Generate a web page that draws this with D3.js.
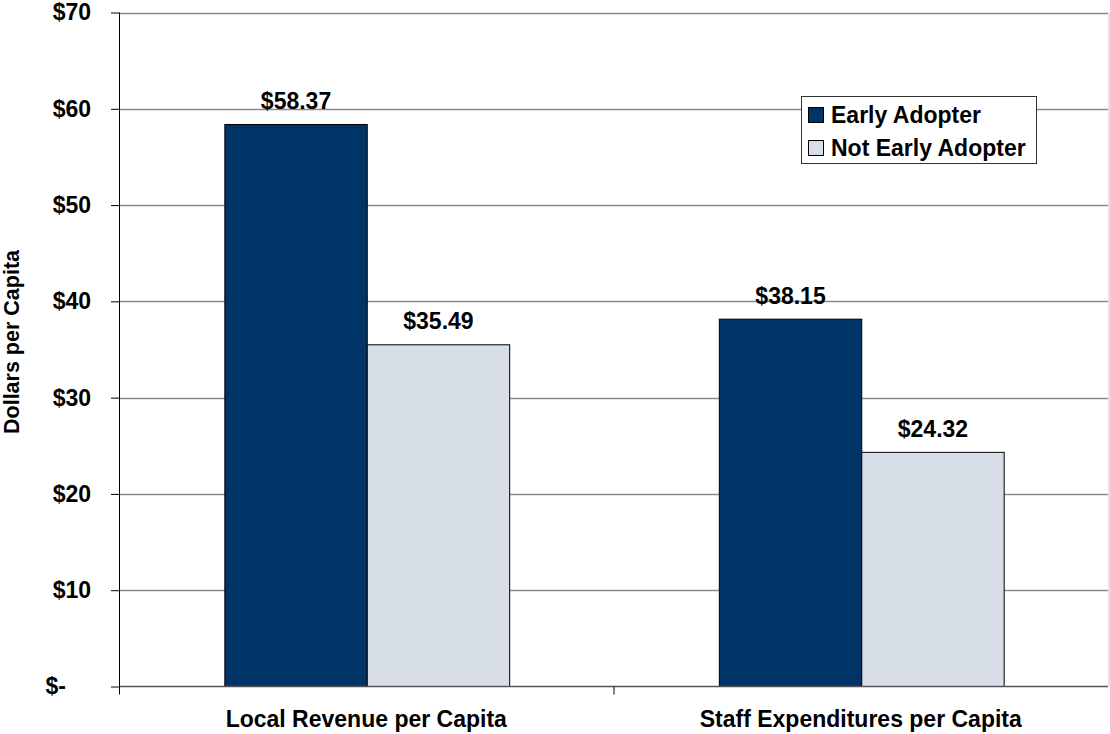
<!DOCTYPE html>
<html>
<head>
<meta charset="utf-8">
<script src="https://cdn.jsdelivr.net/npm/d3@7"></script>
<style>
  html, body { margin: 0; padding: 0; background: #fff; }
  svg { display: block; font-family: "Liberation Sans", Arial, Helvetica, sans-serif; }
</style>
</head>
<body>
<svg id="chart" width="1110" height="734"></svg>
<script>
// --- Data ---
const categories = ['Local Revenue per Capita', 'Staff Expenditures per Capita'];
const series = ['Early Adopter', 'Not Early Adopter'];
const earlyAdopter = [58.37, 38.15];
const notEarlyAdopter = [35.49, 24.32];
const yTicks = [0, 10, 20, 30, 40, 50, 60, 70];
const colors = ['#003366', '#D7DEE8'];

const W = 1110, H = 734;
const plot = { left: 119, right: 1108, top: 12.5, bottom: 686.5 };

const svg = d3.select('#chart');

const y = d3.scaleLinear().domain([0, 70]).range([plot.bottom, plot.top]);
const x0 = d3.scaleBand().domain(categories).range([plot.left, plot.right]);
// bars take ~58% of each category slot
const groupW = x0.bandwidth() * 0.576;
const x1 = d3.scaleBand().domain(series)
  .range([(x0.bandwidth() - groupW) / 2 + 1, (x0.bandwidth() + groupW) / 2 + 1]);
const color = d3.scaleOrdinal().domain(series).range(colors);

const rows = categories.map((c, i) => ({
  category: c,
  values: [
    { key: series[0], value: earlyAdopter[i] },
    { key: series[1], value: notEarlyAdopter[i] }
  ]
}));

// --- Gridlines ---
svg.append('g')
  .selectAll('line')
  .data(yTicks.filter(d => d > 0))
  .join('line')
  .attr('x1', plot.left).attr('x2', plot.right)
  .attr('y1', d => Math.round(y(d)) + 0.5).attr('y2', d => Math.round(y(d)) + 0.5)
  .attr('stroke', '#8a8a8a')
  .attr('stroke-width', 1.3);

// right border of plot area
svg.append('line')
  .attr('x1', plot.right + 1).attr('x2', plot.right + 1)
  .attr('y1', plot.top).attr('y2', plot.bottom)
  .attr('stroke', '#c8c8c8');

// --- Bars ---
const groups = svg.append('g')
  .selectAll('g')
  .data(rows)
  .join('g')
  .attr('transform', d => `translate(${x0(d.category)},0)`);

groups.selectAll('rect')
  .data(d => d.values)
  .join('rect')
  .attr('x', d => x1(d.key))
  .attr('y', d => y(d.value))
  .attr('width', x1.bandwidth())
  .attr('height', d => y(0) - y(d.value))
  .attr('fill', d => color(d.key))
  .attr('stroke', '#000')
  .attr('stroke-width', 1);

groups.selectAll('text')
  .data(d => d.values)
  .join('text')
  .attr('x', d => x1(d.key) + x1.bandwidth() / 2)
  .attr('y', d => y(d.value) - 15.5)
  .attr('text-anchor', 'middle')
  .attr('font-size', '23px')
  .attr('font-weight', 'bold')
  .attr('fill', '#000')
  .text(d => '$' + d.value.toFixed(2));

// --- X axis ---
svg.append('line')
  .attr('x1', plot.left).attr('x2', plot.right)
  .attr('y1', plot.bottom).attr('y2', plot.bottom)
  .attr('stroke', '#555').attr('stroke-width', 1.5);

const xAxis = d3.axisBottom(x0).tickSize(0).tickPadding(0);
const gx = svg.append('g')
  .attr('transform', `translate(0,${plot.bottom})`)
  .call(xAxis);
gx.select('.domain').remove();
gx.selectAll('text')
  .attr('dy', 0)
  .attr('y', 40.5)
  .attr('font-size', '23px')
  .attr('font-weight', 'bold')
  .attr('font-family', '"Liberation Sans", Arial, sans-serif')
  .attr('fill', '#000');
// category separators (tick marks between and at edges)
svg.append('g')
  .selectAll('line')
  .data([plot.left, x0(categories[1])])
  .join('line')
  .attr('x1', d => d + 0.5).attr('x2', d => d + 0.5)
  .attr('y1', plot.bottom).attr('y2', plot.bottom + 8)
  .attr('stroke', '#000');

// --- Y axis ---
const yAxis = d3.axisLeft(y)
  .tickValues(yTicks)
  .tickSize(8)
  .tickPadding(20)
  .tickFormat(d => d === 0 ? '$-' : '$' + d);
const gy = svg.append('g')
  .attr('transform', `translate(${plot.left},0)`)
  .call(yAxis);
gy.select('.domain')
  .attr('d', `M0.5,${plot.top}V${plot.bottom}`)
  .attr('stroke', '#000');
gy.selectAll('.tick line').attr('stroke', '#000');
gy.selectAll('text')
  .attr('font-size', '23px')
  .attr('font-weight', 'bold')
  .attr('font-family', '"Liberation Sans", Arial, sans-serif')
  .attr('fill', '#000');
gy.selectAll('.tick').filter(d => d === 0).select('text')
  .attr('x', -53);

// y axis title
svg.append('text')
  .attr('transform', 'translate(19,342) rotate(-90)')
  .attr('text-anchor', 'middle')
  .attr('font-size', '21.5px')
  .attr('font-weight', 'bold')
  .attr('fill', '#000')
  .text('Dollars per Capita');

// --- Legend ---
const legend = svg.append('g').attr('transform', 'translate(801,96)');
legend.append('rect')
  .attr('x', 0.5).attr('y', 0.5)
  .attr('width', 235).attr('height', 67)
  .attr('fill', '#fff')
  .attr('stroke', '#333');
const li = legend.selectAll('g.item')
  .data(series)
  .join('g')
  .attr('class', 'item')
  .attr('transform', (d, i) => `translate(7,${11 + i * 33})`);
li.append('rect')
  .attr('x', 0.5).attr('y', 0.5)
  .attr('width', 15).attr('height', 15)
  .attr('fill', d => color(d))
  .attr('stroke', '#000');
li.append('text')
  .attr('x', 23)
  .attr('y', 16)
  .attr('font-size', '23px')
  .attr('font-weight', 'bold')
  .attr('fill', '#000')
  .text(d => d);
</script>
</body>
</html>
